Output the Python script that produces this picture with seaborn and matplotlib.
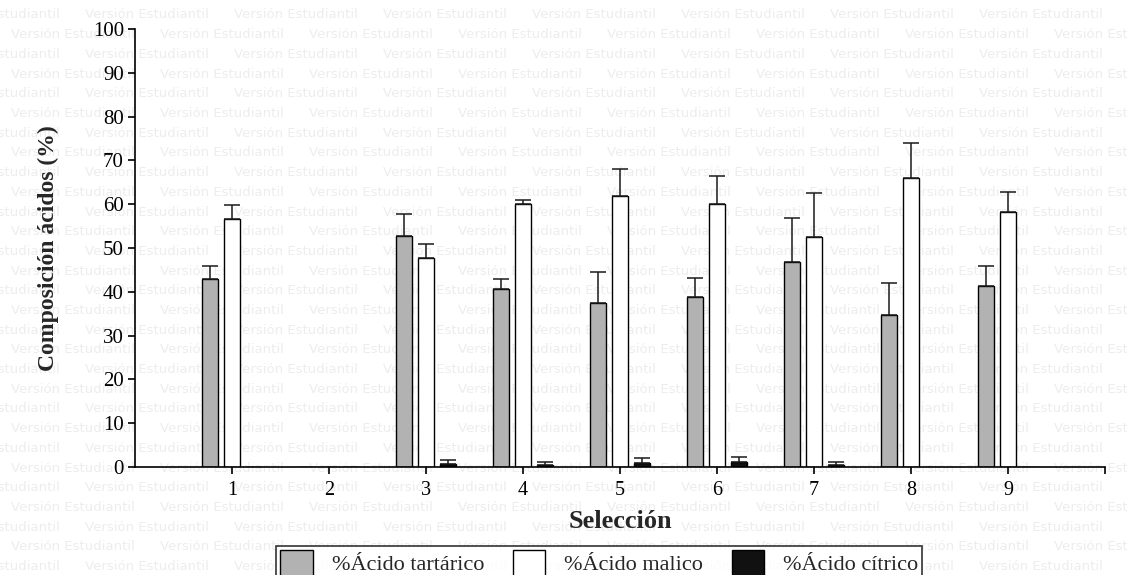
import numpy as np
import pandas as pd
import matplotlib
matplotlib.use("Agg")
import matplotlib.pyplot as plt
import seaborn as sns
from matplotlib.patches import Patch

# ---------------- data ----------------
selections = [1, 2, 3, 4, 5, 6, 7, 8, 9]
acid_labels = ["%Ácido tartárico", "%Ácido malico", "%Ácido cítrico"]
tartaric_mean = [43.0, 0.0, 52.7, 40.6, 37.4, 38.7, 46.8, 34.7, 41.3]
tartaric_err = [3.0, 0.0, 5.1, 2.3, 7.1, 4.5, 10.0, 7.2, 4.7]
malic_mean = [56.7, 0.0, 47.7, 60.0, 61.9, 60.0, 52.4, 66.0, 58.2]
malic_err = [3.2, 0.0, 3.2, 0.9, 6.1, 6.5, 10.2, 7.9, 4.5]
citric_mean = [0.0, 0.0, 0.7, 0.45, 0.85, 1.2, 0.45, 0.0, 0.1]
citric_err = [0.0, 0.0, 0.9, 0.6, 1.1, 1.0, 0.6, 0.0, 0.0]
y_ticks = [0, 10, 20, 30, 40, 50, 60, 70, 80, 90, 100]
x_ticks = [1, 2, 3, 4, 5, 6, 7, 8, 9, 10]
x_tick_labels = ["1", "2", "3", "4", "5", "6", "7", "8", "9", ""]
acid_colors = ["#b2b2b2", "#ffffff", "#111111"]
watermark = "Versión Estudiantil"

means = [tartaric_mean, malic_mean, citric_mean]
errs = [tartaric_err, malic_err, citric_err]
df = pd.DataFrame({
    "sel": np.tile(selections, 3),
    "acid": np.repeat(acid_labels, len(selections)),
    "value": np.concatenate(means),
    "err": np.concatenate(errs),
})

# ---------------- style ----------------
sns.set_style("ticks")
plt.rcParams["font.family"] = ["Liberation Serif", "DejaVu Serif"]

W, H = 1127, 575
fig = plt.figure(figsize=(W / 100, H / 100), dpi=100, facecolor="white")

# watermark (behind the axes)
for i in range(30):
    yy = 1 - (15 + 19.7 * i) / H
    x0 = -64 if i % 2 == 0 else 11
    for k in range(9):
        fig.text((x0 + 149 * k) / W, yy, watermark, fontsize=9.5,
                 color="#ededed", family="DejaVu Sans", ha="left",
                 va="center", zorder=-10)

ax = fig.add_axes([135 / W, 108 / H, 970 / W, 438 / H])
ax.patch.set_visible(False)

sns.barplot(data=df, x="sel", y="value", hue="acid", hue_order=acid_labels,
            palette=dict(zip(acid_labels, acid_colors)), native_scale=True,
            width=0.68, gap=0.23, saturation=1, errorbar=None,
            edgecolor="black", linewidth=1.0, legend=False, ax=ax)

# error bars (upper only) placed on the drawn bars
n = len(selections)
for h in range(3):
    bars = ax.patches[h * n:(h + 1) * n]
    xs, ys, es = [], [], []
    for b, m, e in zip(bars, means[h], errs[h]):
        if m > 0 and e > 0:
            xs.append(b.get_x() + b.get_width() / 2)
            ys.append(b.get_height())
            es.append(e)
    ax.errorbar(xs, ys, yerr=[np.zeros(len(es)), es], fmt="none",
                ecolor="#1a1a1a", elinewidth=1.1, capsize=6, capthick=1.1,
                zorder=3)

ax.set_xlim(0, 10)
ax.set_ylim(0, 100)
ax.set_xticks(x_ticks)
ax.set_xticklabels(x_tick_labels)
ax.set_yticks(y_ticks)
ax.tick_params(axis="both", direction="out", length=5, width=1.2,
               color="black", labelcolor="black")
ax.tick_params(axis="x", pad=5, labelsize=14.5)
ax.tick_params(axis="y", pad=3, labelsize=15)
for s in ["top", "right"]:
    ax.spines[s].set_visible(False)
for s in ["left", "bottom"]:
    ax.spines[s].set_linewidth(1.2)
    ax.spines[s].set_color("black")

ax.set_xlabel("Selección", fontsize=19, fontweight="bold", labelpad=7)
ax.set_ylabel("Composición ácidos (%)", fontsize=17, fontweight="bold",
              labelpad=24)

handles = [Patch(facecolor=c, edgecolor="black", linewidth=1.0)
           for c in acid_colors]
leg = fig.legend(handles, acid_labels, loc="upper left",
                 bbox_to_anchor=(276 / W, 1 - 545.5 / H), ncol=3,
                 frameon=True, fancybox=False, edgecolor="black",
                 fontsize=16, handlelength=1.45, handleheight=1.4,
                 handletextpad=0.85, columnspacing=1.3, borderpad=0.2,
                 borderaxespad=0)
leg.get_frame().set_linewidth(1.2)

fig.savefig("out.png", dpi=100, facecolor="white")
